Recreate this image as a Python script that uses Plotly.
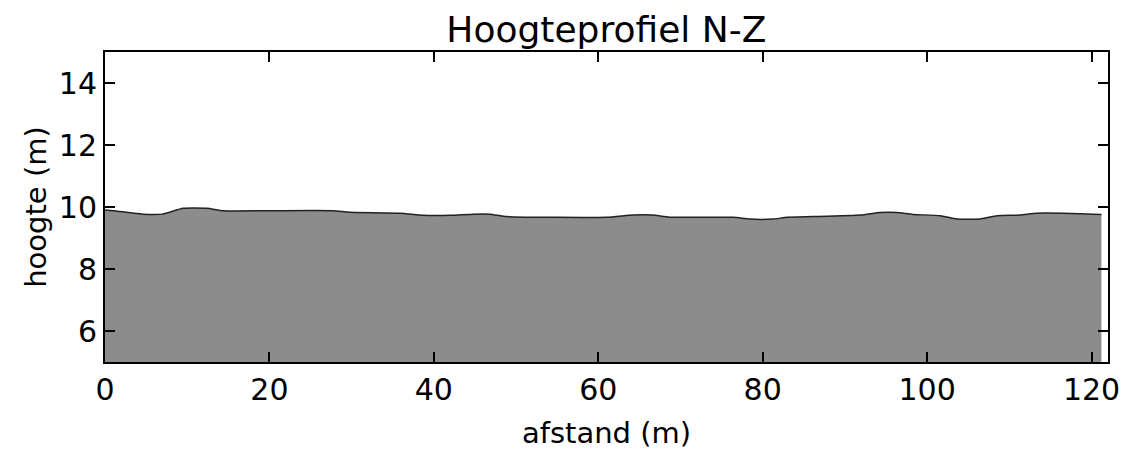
import plotly.graph_objects as go

afstand = [0, 1, 4.6, 7, 9.5, 12.4, 14.4, 20, 27.7, 29.8, 35.9, 38.7, 42, 44.8, 46.8, 48.9,
           61, 64.2, 66.6, 68.7, 76.4, 78.4, 81.2, 83, 86.2, 91.9, 94.3, 96.3, 98.3, 101.6,
           103.6, 106.4, 108.5, 111.3, 113.3, 116.5, 121.2]
hoogte = [9.90, 9.88, 9.77, 9.77, 9.96, 9.96, 9.88, 9.88, 9.88, 9.83, 9.80, 9.73, 9.73, 9.77,
          9.77, 9.69, 9.67, 9.74, 9.74, 9.67, 9.67, 9.61, 9.61, 9.67, 9.69, 9.74, 9.82, 9.82,
          9.76, 9.72, 9.61, 9.61, 9.72, 9.74, 9.80, 9.80, 9.76]

x_ticks = [0, 20, 40, 60, 80, 100, 120]
y_ticks = [6, 8, 10, 12, 14]

font = "DejaVu Sans"

fig = go.Figure()
fig.add_trace(go.Scatter(
    x=afstand, y=hoogte, mode="lines", fill="tozeroy",
    fillcolor="#8c8c8c",
    line=dict(color="#222222", width=1.5, shape="spline", smoothing=0.5),
    hoverinfo="skip", showlegend=False,
))

axis_common = dict(
    showline=True, linecolor="black", linewidth=2, mirror="ticks",
    ticks="inside", ticklen=10, tickwidth=1.5, tickcolor="black",
    showgrid=False, zeroline=False, automargin=False,
    tickfont=dict(family=font, size=30, color="black"),
)

fig.update_layout(
    width=1127, height=450,
    margin=dict(l=105, r=19, t=52, b=88, autoexpand=False),
    paper_bgcolor="white", plot_bgcolor="white",
    title=dict(text="Hoogteprofiel N-Z", x=0.538, xanchor="center", y=0.935,
               yanchor="middle", yref="container",
               font=dict(family=font, size=36, color="black")),
    xaxis=dict(range=[0, 122], tickvals=x_ticks,
               title=dict(text="afstand (m)", font=dict(family=font, size=29, color="black"), standoff=20),
               **axis_common),
    yaxis=dict(range=[5, 15], tickvals=y_ticks,
               title=dict(text="hoogte (m)", font=dict(family=font, size=29, color="black"), standoff=4),
               **axis_common),
)

fig.write_html("out.html", config={"displayModeBar": False},
               post_script="document.body.style.margin='0';document.body.style.overflow='hidden';")
